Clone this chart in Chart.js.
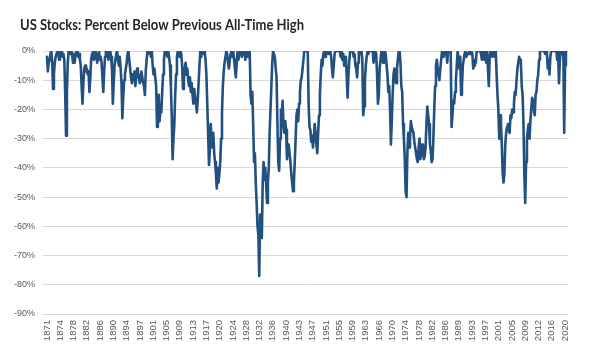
<!DOCTYPE html>
<html><head><meta charset="utf-8">
<script src="https://cdn.jsdelivr.net/npm/chart.js@4.4.1/dist/chart.umd.min.js"></script>
<style>html,body{margin:0;padding:0;background:#fff}#wrap{width:600px;height:353px;position:relative}</style>
</head><body><div id="wrap"><canvas id="c"></canvas></div>
<script>
const chartTitle = 'US Stocks: Percent Below Previous All-Time High';
const startYear = 1871;
const periodsPerYear = 4; // quarterly readings
const drawdown = [
/*1871*/ -2,-7,-4,-3, -1,0,-4,-13, -8,-4,-2,-1, 0,-1,-3,0, -1,0,-2,-1,
/*1876*/ -3,-14,-29,-14, -4,0,0,-1, 0,-1,-4,-2, -4,-1,0,0, -2,-1,-3,-5,
/*1881*/ -12,-18,-11,-6, -5,-7,-6,-8, -7,-14,-9,-3, -1,0,-3,-2, 0,-2,-4,-1,
/*1886*/ 0,-3,-2,-4, -9,-14,-7,-2, 0,-1,0,-3, -1,0,-2,-6, -18,-11,-5,-3,
/*1891*/ -1,0,-3,-5, -2,-6,-11,-23, -16,-10,-8,-6, -4,-1,0,-3, -6,-9,-11,-8,
/*1896*/ -10,-7,-12,-9, -6,-9,-8,-11, -10,-7,-9,-11, -12,-15,-7,-3, 0,-1,0,0,
/*1901*/ -2,0,-5,-8, -6,-9,-12,-26, -22,-15,-24,-20, -21,-14,-8,-3, 0,-1,0,-2,
/*1906*/ 0,-2,-5,-12, -22,-37,-30,-25, -15,-8,-2,0, 0,-2,0,-1, -5,-13,-10,-6,
/*1911*/ -4,-8,-6,-10, -12,-9,-14,-11, -15,-18,-13,-16, -18,-21,-17,-11, -5,0,-2,0,
/*1916*/ 0,-1,0,-3, -8,-18,-28,-39, -34,-25,-30,-33, -28,-35,-38,-42, -47,-40,-45,-42,
/*1921*/ -38,-30,-21,-12, -7,-4,-2,0, -1,-4,-6,-3, -1,0,-2,0, -3,-6,-9,-4,
/*1926*/ 0,-3,-1,0, 0,-2,0,-1, 0,-3,0,0, -2,0,0,-15, -18,-14,-25,-38,
/*1931*/ -35,-45,-52,-60, -63,-77,-56,-60, -64,-45,-38,-44, -40,-46,-52,-45, -40,-28,-20,-12,
/*1936*/ -4,0,0,-2, -6,-9,-25,-38, -41,-30,-20,-22, -17,-26,-28,-24, -27,-37,-33,-32,
/*1941*/ -35,-38,-42,-45, -48,-45,-38,-30, -22,-20,-24,-18, -14,-10,-9,-6, -3,0,0,0,
/*1946*/ 0,0,-18,-26, -27,-31,-29,-33, -30,-25,-28,-32, -35,-28,-22,-15, -8,-3,-5,-1,
/*1951*/ 0,-2,0,-1, 0,-1,0,0, -2,-6,-9,-5, -1,0,0,0, 0,0,0,-2,
/*1956*/ 0,-3,-1,-5, -4,-2,-9,-16, -8,-3,0,0, 0,0,-2,-1, -5,-6,-9,-4,
/*1961*/ 0,0,-1,0, -3,-22,-19,-10, -5,-2,0,-1, 0,0,0,0, 0,-4,-1,0,
/*1966*/ -1,-8,-18,-15, -6,-3,0,-1, -4,0,0,-1, -5,-8,-14,-12, -20,-32,-24,-15,
/*1971*/ -8,-6,-10,-11, -6,-3,0,0, -4,-12,-14,-25, -30,-37,-48,-50, -35,-28,-33,-30,
/*1976*/ -24,-26,-27,-28, -31,-33,-35,-37, -38,-33,-30,-37, -34,-32,-35,-37, -36,-33,-25,-19,
/*1981*/ -22,-25,-32,-34, -38,-37,-30,-20, -12,-5,-3,-6, -8,-10,-6,-3, 0,0,-2,0,
/*1986*/ 0,0,-4,0, 0,0,0,-26, -22,-17,-18,-14, -10,-5,0,-3, -6,-2,-15,-12,
/*1991*/ -5,-3,-1,0, -2,-1,-1,0, 0,-1,0,-1, -6,-5,-3,-4, 0,0,0,0,
/*1996*/ 0,-1,-3,0, 0,-3,0,-4, 0,0,-12,-2, 0,0,-2,0, 0,-2,0,-8,
/*2001*/ -15,-20,-30,-22, -25,-32,-42,-45, -42,-32,-28,-26, -25,-27,-28,-22, -23,-20,-21,-18,
/*2006*/ -14,-15,-10,-6, -4,-2,-3,-4, -12,-15,-25,-42, -52,-38,-30,-27, -25,-30,-24,-20,
/*2011*/ -16,-17,-20,-22, -15,-14,-10,-8, -3,0,0,0, 0,0,0,-1, 0,0,-6,-3,
/*2016*/ -8,-2,0,0, 0,0,0,0, 0,-3,0,-11, -3,0,-1,0, 0,-28,-5,0
];
const xTickLabels = ['1871','1874','1878','1882','1886','1890','1894','1897','1901','1905',
  '1909','1913','1917','1920','1924','1928','1932','1936','1940','1943',
  '1947','1951','1955','1959','1963','1966','1970','1974','1978','1982',
  '1986','1989','1993','1997','2001','2005','2009','2012','2016','2020'];
const xTickMonthStep = 46;
const yTickValues = [0,-10,-20,-30,-40,-50,-60,-70,-80,-90];

const points = drawdown.map((v, i) => ({ x: startYear + i / periodsPerYear, y: v }));
const xTickPositions = xTickLabels.map((l, k) => startYear + k * xTickMonthStep / 12);

const titlePlugin = {
  id: 'titleText',
  afterDraw(chart) {
    const ctx = chart.ctx;
    ctx.save();
    ctx.font = 'bold 15px Lato, "Liberation Sans", sans-serif';
    ctx.fillStyle = '#262626';
    ctx.textBaseline = 'alphabetic';
    ctx.textAlign = 'left';
    const w = ctx.measureText(chartTitle).width;
    ctx.translate(20, 30);
    ctx.scale(284 / w, 1);
    ctx.fillText(chartTitle, 0, 0);
    ctx.restore();
  }
};

// vertical year labels placed via the x scale
const xLabelPlugin = {
  id: 'xLabels',
  afterDraw(chart) {
    const xs = chart.scales.x;
    const ctx = chart.ctx;
    ctx.save();
    ctx.font = '9.5px "Liberation Sans", Arial, sans-serif';
    ctx.fillStyle = '#595959';
    ctx.textAlign = 'right';
    ctx.textBaseline = 'middle';
    const top = chart.chartArea.bottom + 6;
    xTickPositions.forEach((v, i) => {
      const px = xs.getPixelForValue(v);
      ctx.save();
      ctx.translate(px, top);
      ctx.rotate(-Math.PI / 2);
      ctx.fillText(xTickLabels[i], 0, 0);
      ctx.restore();
    });
    ctx.restore();
  }
};

new Chart(document.getElementById('c'), {
  type: 'line',
  data: { datasets: [{
    data: points,
    borderColor: '#22507f',
    borderWidth: 2.6,
    pointRadius: 0,
    tension: 0,
    fill: false,
    borderJoinStyle: 'round',
    borderCapStyle: 'round'
  }]},
  options: {
    responsive: true,
    maintainAspectRatio: false,
    devicePixelRatio: 1,
    animation: false,
    events: [],
    layout: { padding: { top: 51, left: 14, right: 32, bottom: 11 } },
    plugins: { legend: { display: false }, tooltip: { enabled: false }, title: { display: false } },
    scales: {
      x: {
        type: 'linear',
        min: 1869.85,
        max: 2021.35,
        afterBuildTicks(axis) { axis.ticks = xTickPositions.map(v => ({ value: v })); },
        afterFit(axis) { axis.height = 28; },
        ticks: { display: false },
        grid: { display: false },
        border: { display: false }
      },
      y: {
        min: -90,
        max: 0,
        afterBuildTicks(axis) { axis.ticks = yTickValues.map(v => ({ value: v })); },
        afterFit(axis) { axis.width = 29; },
        ticks: {
          padding: 8,
          color: '#595959',
          font: { family: '"Liberation Sans", Arial, sans-serif', size: 9 },
          callback: v => v + '%'
        },
        grid: { color: '#d9d9d9', lineWidth: 1, drawTicks: false },
        border: { display: false }
      }
    }
  },
  plugins: [titlePlugin, xLabelPlugin]
});
</script>
</body></html>
